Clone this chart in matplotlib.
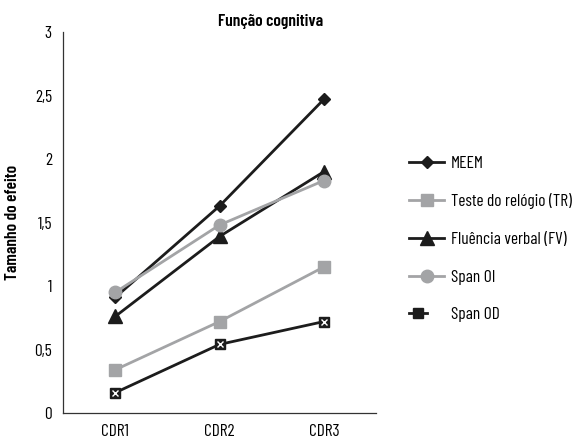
import matplotlib
matplotlib.use("Agg")
import matplotlib.pyplot as plt
from matplotlib.legend_handler import HandlerTuple

plt.rcParams['font.family'] = ['Barlow Condensed', 'Liberation Sans Narrow', 'DejaVu Sans']

categories = ['CDR1', 'CDR2', 'CDR3']
meem = [0.91, 1.63, 2.47]
relogio = [0.34, 0.72, 1.15]
fluencia = [0.76, 1.39, 1.90]
span_oi = [0.95, 1.48, 1.83]
span_od = [0.16, 0.54, 0.72]
yticks = [0, 0.5, 1, 1.5, 2, 2.5, 3]
ytick_labels = ['0', '0,5', '1', '1,5', '2', '2,5', '3']

dark = '#1c1c1c'
grey = '#a3a4a6'

fig = plt.figure(figsize=(5.75, 4.42), dpi=100)
ax = fig.add_axes([0.1096, 0.0656, 0.5444, 0.862])
x = range(len(categories))

h1, = ax.plot(x, meem, color=dark, lw=2, marker='D', ms=6.5, label='MEEM')
h2, = ax.plot(x, relogio, color=grey, lw=2, marker='s', ms=8.5, label='Teste do relógio (TR)')
h3, = ax.plot(x, fluencia, color=dark, lw=2, marker='^', ms=10, label='Fluência verbal (FV)')
h4, = ax.plot(x, span_oi, color=grey, lw=2, marker='o', ms=9, label='Span OI')
h5, = ax.plot(x, span_od, color=dark, lw=2, marker='s', ms=6.5, label='Span OD')
h5x, = ax.plot(x, span_od, ls='none', marker='x', ms=4.5, mew=1, color='white')

ax.set_xlim(-0.5, 2.5)
ax.set_ylim(0, 3)
ax.set_xticks(list(x))
ax.set_xticklabels(categories, fontsize=12.5)
ax.set_yticks(yticks)
ax.set_yticklabels(ytick_labels, fontsize=12.5)
ax.tick_params(length=0, pad=8)
for s in ['top', 'right']:
    ax.spines[s].set_visible(False)
for s in ['left', 'bottom']:
    ax.spines[s].set_color('#333333')
    ax.spines[s].set_linewidth(0.9)

ax.set_ylabel('Tamanho do efeito', fontsize=12.5, fontweight='semibold', labelpad=10)
fig.text(0.47, 0.952, 'Função cognitiva', fontsize=12.5, fontweight='semibold', ha='center', va='center')

fig.legend([h1, h2, h3, h4, (h5, h5x)],
           ['MEEM', 'Teste do relógio (TR)', 'Fluência verbal (FV)', 'Span OI', 'Span OD'],
           handler_map={tuple: HandlerTuple(ndivide=None, pad=0)},
           loc='upper left', bbox_to_anchor=(0.712, 0.648), frameon=False,
           fontsize=12.5, handlelength=2.0, labelspacing=1.3, handletextpad=0.4,
           borderaxespad=0, borderpad=0)

fig.savefig('out.png', dpi=100)
